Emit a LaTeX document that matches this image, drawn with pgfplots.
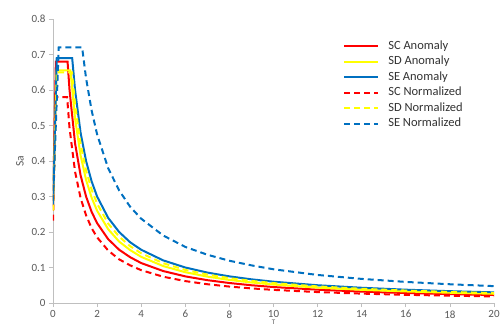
\documentclass[border=0pt]{standalone}
\usepackage{fontspec}
\setmainfont{Carlito}
\usepackage{pgfplots}
\pgfplotsset{compat=1.18}
\definecolor{ExRed}{RGB}{255,0,0}
\definecolor{ExYellow}{RGB}{255,255,0}
\definecolor{ExBlue}{RGB}{0,112,192}
\definecolor{tickgray}{RGB}{89,89,89}
\definecolor{legtext}{RGB}{50,50,50}
\definecolor{axgray}{RGB}{191,191,191}
\pgfplotsset{
  exlegend/.style={legend image code/.code={\draw[##1, line width=2bp] (0bp,0bp) -- (34bp,0bp);}},
}
\begin{document}
\begin{tikzpicture}
\begin{axis}[name=ax,
  at={(0,0)}, anchor=south west,
  scale only axis, width=441bp, height=284bp,
  xmin=0, xmax=20, ymin=0, ymax=0.8,
  xtick={0,2,...,20}, ytick={0,0.1,...,0.8},
  axis x line*=bottom, axis y line*=left,
  axis line style={axgray, line width=0.8bp, -},
  tick style={axgray, line width=0.8bp},
  tick align=outside, major tick length=4bp,
  ticklabel style={font=\fontsize{11bp}{13bp}\selectfont, text=tickgray},
  /pgf/number format/assume math mode=true,
  yticklabel style={/pgf/number format/fixed, /pgf/number format/precision=1},
  xlabel={T}, ylabel={Sa},
  every axis x label/.style={at={(rel axis cs:0.5,0)}, yshift=-17bp, anchor=north,
    font=\fontsize{7bp}{8bp}\selectfont, text=tickgray, inner sep=0pt},
  every axis y label/.style={at={(rel axis cs:0,0.5)}, xshift=-33bp, rotate=90, anchor=center,
    font=\fontsize{11.5bp}{12bp}\selectfont, text=tickgray, inner sep=0pt},
  legend cell align=left,
  legend style={at={(0.651,0.937)}, anchor=north west, draw=none, fill=none,
    font=\fontsize{12.5bp}{14bp}\selectfont, text=legtext,
    row sep=1.5bp,
    /tikz/every odd column/.append style={column sep=8bp},
    nodes={inner sep=1bp, text height=9bp, text depth=3bp}},
]
\addplot[color=ExRed, solid, line width=2bp, exlegend] coordinates {(0,0.272)(0.13,0.68)(0.66,0.68)(0.75,0.6)(1,0.45)(1.25,0.36)(1.5,0.3)(1.75,0.257)(2,0.225)(2.5,0.18)(3,0.15)(3.5,0.129)(4,0.1125)(5,0.09)(6,0.075)(7,0.0643)(8,0.0563)(9,0.05)(10,0.045)(12,0.0375)(14,0.0321)(16,0.0281)(18,0.025)(20,0.0225)};
\addlegendentry{SC Anomaly}
\addplot[color=ExYellow, solid, line width=2bp, exlegend] coordinates {(0,0.262)(0.16,0.655)(0.79,0.655)(1,0.52)(1.25,0.416)(1.5,0.347)(1.75,0.297)(2,0.26)(2.5,0.208)(3,0.173)(3.5,0.149)(4,0.13)(5,0.104)(6,0.0867)(7,0.0743)(8,0.065)(9,0.0578)(10,0.052)(12,0.0433)(14,0.0371)(16,0.0325)(18,0.0289)(20,0.026)};
\addlegendentry{SD Anomaly}
\addplot[color=ExBlue, solid, line width=2bp, exlegend] coordinates {(0,0.276)(0.17,0.69)(0.87,0.69)(1,0.6)(1.25,0.48)(1.5,0.4)(1.75,0.343)(2,0.3)(2.5,0.24)(3,0.2)(3.5,0.171)(4,0.15)(5,0.12)(6,0.1)(7,0.0857)(8,0.075)(9,0.0667)(10,0.06)(12,0.05)(14,0.0429)(16,0.0375)(18,0.0333)(20,0.03)};
\addlegendentry{SE Anomaly}
\addplot[color=ExRed, dash pattern=on 6bp off 4bp, line width=2bp, exlegend] coordinates {(0,0.232)(0.13,0.58)(0.64,0.58)(0.75,0.493)(1,0.37)(1.25,0.296)(1.5,0.247)(1.75,0.211)(2,0.185)(2.5,0.148)(3,0.123)(3.5,0.106)(4,0.0925)(5,0.074)(6,0.0617)(7,0.0529)(8,0.0463)(9,0.0411)(10,0.037)(12,0.0308)(14,0.0264)(16,0.0231)(18,0.0206)(20,0.0185)};
\addlegendentry{SC Normalized}
\addplot[color=ExYellow, dash pattern=on 6bp off 4bp, line width=2bp, exlegend] coordinates {(0,0.26)(0.17,0.65)(0.86,0.65)(1,0.56)(1.25,0.448)(1.5,0.373)(1.75,0.32)(2,0.28)(2.5,0.224)(3,0.187)(3.5,0.16)(4,0.14)(5,0.112)(6,0.0933)(7,0.08)(8,0.07)(9,0.0622)(10,0.056)(12,0.0467)(14,0.04)(16,0.035)(18,0.0311)(20,0.028)};
\addlegendentry{SD Normalized}
\addplot[color=ExBlue, dash pattern=on 6bp off 4bp, line width=2bp, exlegend] coordinates {(0,0.288)(0.26,0.72)(1.32,0.72)(1.5,0.633)(1.75,0.543)(2,0.475)(2.5,0.38)(3,0.317)(3.5,0.271)(4,0.2375)(5,0.19)(6,0.158)(7,0.136)(8,0.119)(9,0.106)(10,0.095)(12,0.079)(14,0.0679)(16,0.0594)(18,0.0528)(20,0.0475)};
\addlegendentry{SE Normalized}
\end{axis}
\pgfresetboundingbox
\path (ax.south west) ++(-53bp,-22bp) rectangle ++(500bp,325bp);
\end{tikzpicture}
\end{document}
